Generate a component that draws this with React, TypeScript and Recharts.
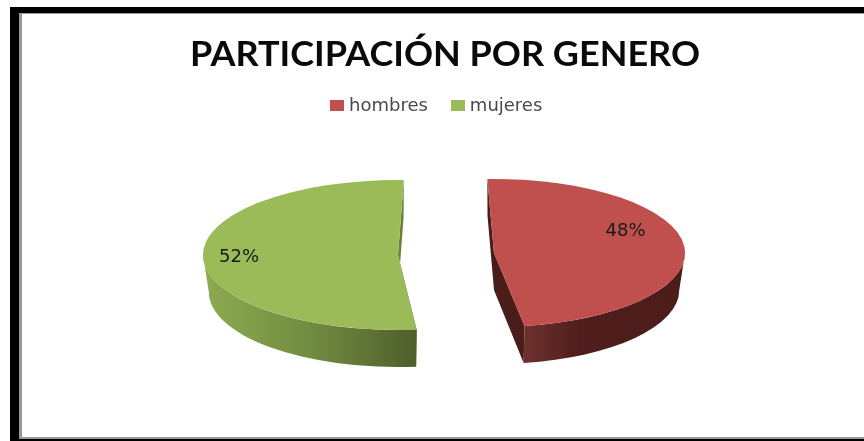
import { PieChart, Pie, Legend } from 'recharts'

const categories = ['hombres', 'mujeres']
const shares = [48, 52]
const sliceColors = ['#c0504d', '#9bbb59']

const pieData = categories.map((name, i) => ({ name, value: shares[i], fill: sliceColors[i] }))

const DEPTH = 37
const FLOOR_SHRINK = 0.97
const CENTER_X = 444
const CENTER_Y = 234 // the legend pushes the plot area down by 20px

// explosion, squash and the faked 3d shading for each slice
const sliceLook: Record<string, any> = {
  hombres: {
    shiftX: 50, shiftY: -1, scaleX: 1, ry: 74, twist: 0,
    cut: '#4a1c1a',
    wall: [['0%', '#6e302d'], ['35%', '#4f1e1c'], ['100%', '#4c1c1b']],
    labelX: 181.5, labelY: -25,
  },
  mujeres: {
    shiftX: -46, shiftY: 1, scaleX: 1.021, ry: 75, twist: -3.7,
    cut: '#6c8239',
    wall: [['0%', '#8dab51'], ['50%', '#728c41'], ['100%', '#4e5f2a']],
    labelX: -205, labelY: 1,
  },
}

const rad = (deg: number) => (deg * Math.PI) / 180

function Slice3D(props: any) {
  const { cx, cy, outerRadius, startAngle, endAngle, fill } = props
  const name = props.name ?? props.payload?.name
  const look = sliceLook[name]
  const x0 = cx + look.shiftX
  const y0 = cy + look.shiftY
  const rx = outerRadius * look.scaleX
  const ry = look.ry
  const start = startAngle + look.twist
  const end = endAngle + look.twist
  const at = (a: number) => `${x0 + rx * Math.cos(rad(a))} ${y0 - ry * Math.sin(rad(a))}`
  const floor = (a: number) =>
    `${x0 + FLOOR_SHRINK * rx * Math.cos(rad(a))} ${y0 - ry * Math.sin(rad(a)) + DEPTH}`

  const large = Math.abs(start - end) > 180 ? 1 : 0
  const top = `M${x0} ${y0} L${at(start)} A${rx} ${ry} 0 ${large} 1 ${at(end)} Z`
  const cut = `M${at(start)} L${x0} ${y0} L${at(end)} L${floor(end)} L${x0} ${y0 + DEPTH} L${floor(start)} Z`

  // only the lower half of the rim shows its wall
  const wallStart = Math.min(start, 0)
  const wallEnd = Math.max(end, -180)
  const wall = `M${at(wallStart)} A${rx} ${ry} 0 0 1 ${at(wallEnd)} L${floor(wallEnd)} A${rx * FLOOR_SHRINK} ${ry} 0 0 0 ${floor(wallStart)} Z`
  const gradId = `wall-${name}`

  return (
    <g>
      <defs>
        <linearGradient id={gradId} x1="0" y1="0" x2="1" y2="0">
          {look.wall.map(([o, c]: string[]) => (
            <stop key={o} offset={o} stopColor={c} />
          ))}
        </linearGradient>
      </defs>
      <path d={cut} fill={look.cut} />
      <path d={wall} fill={`url(#${gradId})`} />
      <path d={top} fill={fill} />
    </g>
  )
}

function sliceLabel(props: any) {
  const name = props.name ?? props.payload?.name
  const look = sliceLook[name]
  return (
    <text
      x={props.cx + look.labelX}
      y={props.cy + look.labelY}
      textAnchor="middle"
      dominantBaseline="central"
      fontFamily="DejaVu Sans"
      fontSize={18}
      fill="#1a1a1a"
    >
      {`${Math.round(props.percent * 100)}%`}
    </text>
  )
}

function LegendRow({ payload }: any) {
  return (
    <div style={{ display: 'flex', fontFamily: 'DejaVu Sans', fontSize: 18, color: '#4a4a4a', lineHeight: '20px' }}>
      {(payload ?? []).map((entry: any) => (
        <div key={entry.value} style={{ display: 'flex', alignItems: 'center', marginRight: 23 }}>
          <span style={{ width: 14, height: 11, background: entry.color, marginRight: 5, display: 'inline-block' }} />
          <span>{entry.value}</span>
        </div>
      ))}
    </div>
  )
}

export default function App() {
  return (
    <div style={{ position: 'absolute', left: 0, top: 0, width: 864, height: 441, overflow: 'hidden', background: '#fff' }}>
      <div style={{ position: 'absolute', left: 10, top: 7, width: 854, height: 434, background: '#000' }} />
      <div style={{ position: 'absolute', left: 19, top: 13, width: 845, height: 426, background: '#999' }} />
      <div style={{ position: 'absolute', left: 22, top: 14, width: 842, height: 423, background: '#fff' }} />
      <div style={{ position: 'absolute', left: 0, top: 0, filter: 'blur(0.5px)' }}>
        <PieChart width={864} height={441} margin={{ top: 0, right: 0, bottom: 0, left: 0 }}>
          <text
            x={445}
            y={66}
            textAnchor="middle"
            fontFamily="Lato"
            fontWeight={700}
            fontSize={35}
            textLength={510}
            lengthAdjust="spacingAndGlyphs"
            fill="#0a0a0a"
          >
            PARTICIPACIÓN POR GENERO
          </text>
          <Legend
            layout="horizontal"
            align="left"
            verticalAlign="top"
            content={<LegendRow />}
            wrapperStyle={{ left: 330, top: 95, width: 300 }}
          />
          <Pie
            data={pieData}
            dataKey="value"
            nameKey="name"
            cx={CENTER_X}
            cy={CENTER_Y}
            outerRadius={191}
            startAngle={92}
            endAngle={-268}
            stroke="none"
            shape={Slice3D}
            label={sliceLabel}
            labelLine={false}
            isAnimationActive={false}
          />
        </PieChart>
      </div>
    </div>
  )
}
